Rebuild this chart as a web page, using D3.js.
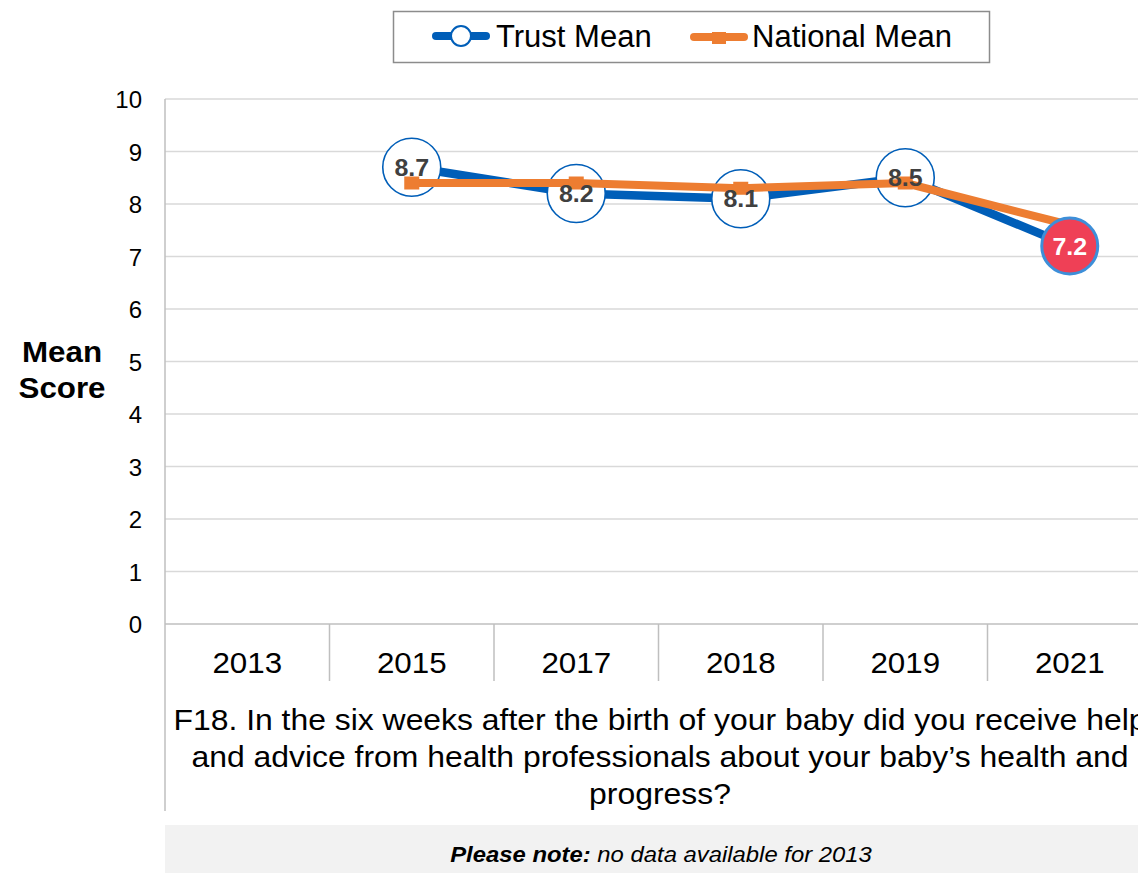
<!DOCTYPE html>
<html>
<head>
<meta charset="utf-8">
<script src="https://cdn.jsdelivr.net/npm/d3@7"></script>
<style>
  html, body { margin: 0; padding: 0; background: #fff; }
  svg { display: block; font-family: "Liberation Sans", Arial, sans-serif; }
</style>
</head>
<body>
<svg id="chart" width="1138" height="873"></svg>
<script>
// Survey years and scores
const years = ["2013", "2015", "2017", "2018", "2019", "2021"];
const trustMean = [null, 8.7, 8.2, 8.1, 8.5, 7.2];
const nationalMean = [null, 8.4, 8.4, 8.3, 8.4, 7.6];
const yTicks = [0, 1, 2, 3, 4, 5, 6, 7, 8, 9, 10];
const questionLines = [
  "F18. In the six weeks after the birth of your baby did you receive help",
  "and advice from health professionals about your baby\u2019s health and",
  "progress?"
];
const noteBold = "Please note:";
const noteText = " no data available for 2013";
// points flagged as significantly below the national figure
const flagged = [false, false, false, false, false, true];

const svg = d3.select("#chart");
const plot = { left: 165, right: 1152, top: 99, bottom: 624 };
const SX = 1.08; // horizontal text widening used by the body text

const x = d3.scaleBand().domain(years).range([plot.left, plot.right]).padding(0);
const y = d3.scaleLinear().domain([0, 10]).range([plot.bottom, plot.top]);
const cx = d => x(d) + x.bandwidth() / 2;

// places a text element at (px, py) widened by sx
function wideText(sel, px, py, sx) {
  return sel.attr("transform", `translate(${px},${py}) scale(${sx},1)`);
}

// Horizontal gridlines
svg.append("g")
  .selectAll("line")
  .data(yTicks.filter(d => d > 0))
  .join("line")
  .attr("x1", plot.left).attr("x2", plot.right)
  .attr("y1", d => y(d)).attr("y2", d => y(d))
  .attr("stroke", "#d9d9d9").attr("stroke-width", 1.3);

// Y axis tick labels
const yAxis = svg.append("g")
  .attr("transform", `translate(${plot.left},0)`)
  .call(d3.axisLeft(y).tickValues(yTicks).tickSize(0).tickPadding(0).tickFormat(d3.format("d")));
yAxis.select(".domain").remove();
yAxis.selectAll("text")
  .attr("x", -23).attr("dy", "0.36em")
  .attr("font-size", 24).attr("fill", "#000")
  .attr("font-family", "Liberation Sans, Arial, sans-serif");

svg.append("line")
  .attr("x1", plot.left).attr("x2", plot.left)
  .attr("y1", plot.top).attr("y2", 811)
  .attr("stroke", "#bfbfbf").attr("stroke-width", 1.5);

// X axis baseline and category separators
svg.append("line")
  .attr("x1", plot.left).attr("x2", plot.right)
  .attr("y1", plot.bottom).attr("y2", plot.bottom)
  .attr("stroke", "#bfbfbf").attr("stroke-width", 1.5);
svg.append("g")
  .selectAll("line")
  .data(years.slice(1))
  .join("line")
  .attr("x1", d => x(d)).attr("x2", d => x(d))
  .attr("y1", plot.bottom).attr("y2", 681)
  .attr("stroke", "#bfbfbf").attr("stroke-width", 1.5);

// Category labels
svg.append("g")
  .selectAll("text")
  .data(years)
  .join("text")
  .each(function (d) { wideText(d3.select(this), cx(d), 673, SX); })
  .attr("text-anchor", "middle")
  .attr("font-size", 29)
  .attr("fill", "#000")
  .text(d => d);

// Y axis title
svg.append("g")
  .selectAll("text")
  .data(["Mean", "Score"])
  .join("text")
  .each(function (d, i) { wideText(d3.select(this), 62, 362 + i * 36, SX); })
  .attr("text-anchor", "middle")
  .attr("font-size", 29).attr("font-weight", "bold")
  .text(d => d);

// Question text under the axis
svg.append("g")
  .selectAll("text")
  .data(questionLines)
  .join("text")
  .each(function (d, i) { wideText(d3.select(this), 660, 730 + i * 37, 1.1); })
  .attr("text-anchor", "middle")
  .attr("font-size", 29)
  .attr("fill", "#000")
  .text(d => d);

// Note panel
svg.append("rect")
  .attr("x", plot.left).attr("y", 825)
  .attr("width", 1138 - plot.left).attr("height", 48)
  .attr("fill", "#f2f2f2");
const note = svg.append("text")
  .attr("text-anchor", "middle")
  .attr("font-size", 21.5).attr("font-style", "italic");
wideText(note, 661, 862, 1.11);
note.append("tspan").attr("font-weight", "bold").text(noteBold);
note.append("tspan").text(noteText);

const trustData = years.map((yr, i) => ({ yr, v: trustMean[i], flag: flagged[i] })).filter(d => d.v != null);
const natData = years.map((yr, i) => ({ yr, v: nationalMean[i] })).filter(d => d.v != null);
const line = d3.line().x(d => cx(d.yr)).y(d => y(d.v));

// Trust line
svg.append("path")
  .datum(trustData)
  .attr("d", line)
  .attr("fill", "none")
  .attr("stroke", "#005eb8")
  .attr("stroke-width", 8.5)
  .attr("stroke-linejoin", "round");

// Trust markers (regular points)
svg.append("g")
  .selectAll("circle")
  .data(trustData.filter(d => !d.flag))
  .join("circle")
  .attr("cx", d => cx(d.yr)).attr("cy", d => y(d.v))
  .attr("r", 29)
  .attr("fill", "#fff")
  .attr("stroke", "#005eb8").attr("stroke-width", 1.6);

// National line and markers
svg.append("path")
  .datum(natData)
  .attr("d", line)
  .attr("fill", "none")
  .attr("stroke", "#ed7d31")
  .attr("stroke-width", 8)
  .attr("stroke-linejoin", "round");
svg.append("g")
  .selectAll("rect")
  .data(natData)
  .join("rect")
  .attr("x", d => cx(d.yr) - 7.5).attr("y", d => y(d.v) - 6.5)
  .attr("width", 15).attr("height", 13)
  .attr("fill", "#ed7d31");

// Flagged trust point
svg.append("g")
  .selectAll("circle")
  .data(trustData.filter(d => d.flag))
  .join("circle")
  .attr("cx", d => cx(d.yr)).attr("cy", d => y(d.v))
  .attr("r", 28)
  .attr("fill", "#ef4056")
  .attr("stroke", "#3d8fd9").attr("stroke-width", 3);

// Value labels
svg.append("g")
  .selectAll("text")
  .data(trustData)
  .join("text")
  .each(function (d) { wideText(d3.select(this), cx(d.yr), y(d.v), 1.04); })
  .attr("text-anchor", "middle")
  .attr("dy", "0.36em")
  .attr("font-size", 24)
  .attr("font-weight", "bold")
  .attr("fill", d => d.flag ? "#fff" : "#404040")
  .text(d => d3.format(".1f")(d.v));

// Legend
const legend = svg.append("g");
legend.append("rect")
  .attr("x", 393.5).attr("y", 11.5).attr("width", 596).attr("height", 51)
  .attr("fill", "#fff").attr("stroke", "#8c8c8c").attr("stroke-width", 1.5);
legend.append("line")
  .attr("x1", 436).attr("x2", 486).attr("y1", 36).attr("y2", 36)
  .attr("stroke", "#005eb8").attr("stroke-width", 8).attr("stroke-linecap", "round");
legend.append("circle")
  .attr("cx", 461).attr("cy", 36).attr("r", 10)
  .attr("fill", "#fff").attr("stroke", "#005eb8").attr("stroke-width", 2);
legend.append("text")
  .attr("x", 496).attr("y", 47).attr("font-size", 31).text("Trust Mean");
legend.append("line")
  .attr("x1", 694).attr("x2", 744).attr("y1", 37).attr("y2", 37)
  .attr("stroke", "#ed7d31").attr("stroke-width", 8).attr("stroke-linecap", "round");
legend.append("rect")
  .attr("x", 712).attr("y", 32).attr("width", 14).attr("height", 12)
  .attr("fill", "#ed7d31");
legend.append("text")
  .attr("x", 752).attr("y", 47).attr("font-size", 31).text("National Mean");
</script>
</body>
</html>
